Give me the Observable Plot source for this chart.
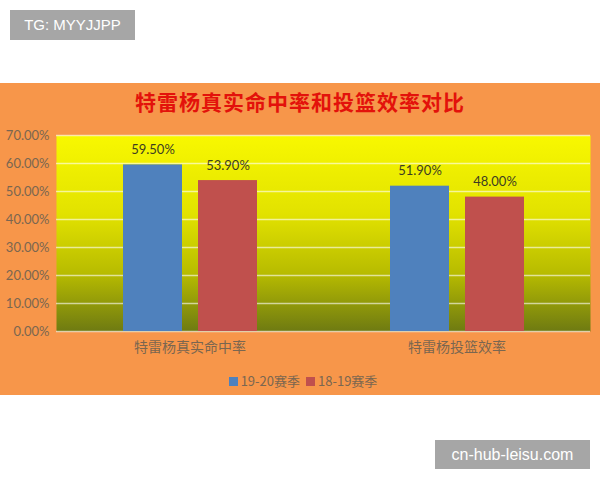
<!DOCTYPE html>
<html><head><meta charset="utf-8">
<script src="https://cdn.jsdelivr.net/npm/d3@7"></script>
<script src="https://cdn.jsdelivr.net/npm/@observablehq/plot@0.6"></script>
<style>
body{margin:0;width:600px;height:480px;background:#fff;position:relative;overflow:hidden;font-family:"Noto Sans CJK SC",sans-serif}
#tg{position:absolute;left:10px;top:10px;width:125px;height:30px;background:#a6a6a6;color:#fff;font:15px "Liberation Sans",Arial,sans-serif;line-height:30px;text-align:center}
#panel{position:absolute;left:0;top:83px;width:600px;height:312px;background:#f7964a}
#title{position:absolute;left:0;top:4px;width:600px;text-align:center;color:#e3120b;font-size:21px;font-weight:bold;line-height:28px;letter-spacing:1px}
#chart{position:absolute;left:0;top:37px}
#legend{position:absolute;left:0;top:289px;width:600px;text-align:center;font-size:13px;color:#7a6650;line-height:18px}
#legend span.sw{display:inline-block;width:9px;height:9px;margin:0 3px 0 6px;vertical-align:-0px}
#site{position:absolute;left:435px;top:440px;width:155px;height:29px;background:#a6a6a6;color:#fff;font:16px "Liberation Sans",Arial,sans-serif;line-height:29px;text-align:center}
</style>
</head><body>
<div id="tg">TG: MYYJJPP</div>
<div id="panel">
  <div id="title"></div>
  <div id="chart"></div>
  <div id="legend"></div>
</div>
<div id="site">cn-hub-leisu.com</div>
<script>
const titleText = "特雷杨真实命中率和投篮效率对比";
const categories = ["特雷杨真实命中率", "特雷杨投篮效率"];
const seasons = ["19-20赛季", "18-19赛季"];
const values1920 = [0.595, 0.519];
const values1819 = [0.539, 0.480];
const yTicks = [0, 0.1, 0.2, 0.3, 0.4, 0.5, 0.6, 0.7];
const seasonColors = ["#4f81bd", "#c0504d"];

const data = [];
categories.forEach((c, i) => {
  data.push({category: c, season: seasons[0], value: values1920[i]});
  data.push({category: c, season: seasons[1], value: values1819[i]});
});
const pct = d => (d * 100).toFixed(2) + "%";

document.getElementById("title").textContent = titleText;

const svg = Plot.plot({
  width: 600, height: 241,
  marginLeft: 55, marginRight: 10, marginTop: 15, marginBottom: 30,
  style: {background: "transparent", fontFamily: "Lato, 'Noto Sans CJK SC', sans-serif", overflow: "visible"},
  fx: {domain: categories, padding: 0, label: null},
  x: {domain: seasons, paddingInner: 0.22, paddingOuter: 0.87, axis: null},
  y: {domain: [0, 0.7], axis: null},
  color: {domain: seasons, range: seasonColors},
  marks: [
    Plot.frame({fill: "url(#bgGrad)", stroke: null, facet: "super"}),
    Plot.gridY(yTicks, {stroke: "#fff", strokeOpacity: 0.6, strokeWidth: 1.5}),
    Plot.barY(data, {fx: "category", x: "season", y: "value", fill: "season"}),
    Plot.text(data, {fx: "category", x: "season", y: "value", text: d => pct(d.value), dy: -15, fill: "#3d3d20", fontSize: 13}),
    Plot.axisY(yTicks, {tickFormat: pct, tickSize: 0, tickPadding: 7, fontSize: 13, fill: "#7a6650", label: null}),
    Plot.axisFx({anchor: "bottom", tickSize: 0, tickPadding: 11, fontSize: 14, fill: "#7a6650", label: null, fontFamily: "'Noto Sans CJK SC', sans-serif"})
  ]
});

const defs = d3.select(svg).insert("defs", ":first-child");
const g = defs.append("linearGradient").attr("id", "bgGrad").attr("x1", 0).attr("y1", 0).attr("x2", 0).attr("y2", 1);
[[0, "#f8f800"], [0.4, "#e2e200"], [0.7, "#b8bc00"], [1, "#6e7a12"]].forEach(([o, c]) => {
  g.append("stop").attr("offset", o).attr("stop-color", c);
});
document.getElementById("chart").appendChild(svg);

const legend = document.getElementById("legend");
seasons.forEach((s, i) => {
  const sw = document.createElement("span");
  sw.className = "sw";
  sw.style.background = seasonColors[i];
  legend.appendChild(sw);
  legend.appendChild(document.createTextNode(s));
});
</script>
</body></html>
